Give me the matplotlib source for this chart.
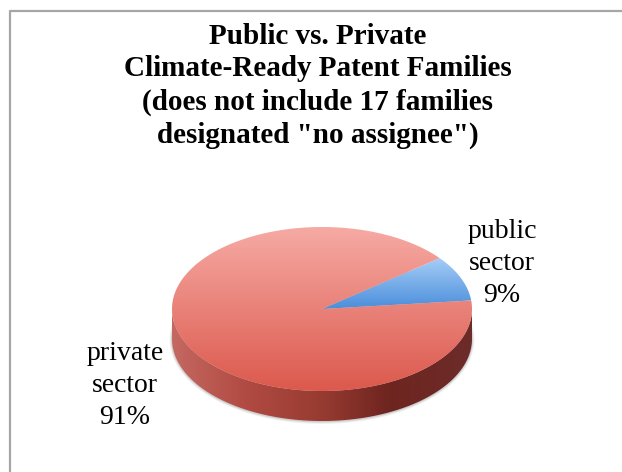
import numpy as np
import matplotlib
matplotlib.use("Agg")
import matplotlib.pyplot as plt
from matplotlib.patches import Polygon
from matplotlib.colors import LinearSegmentedColormap

# ---- data ----
categories = ["public\nsector", "private\nsector"]
values = [9, 91]
title_lines = ["Public vs. Private", "Climate-Ready Patent Families",
               "(does not include 17 families", "designated \"no assignee\")"]

# ---- layout (pixel coords) ----
W, H = 622, 472
cx, cy, a, b, depth = 322, 309, 150, 82, 30
start_deg = 6.0

fig = plt.figure(figsize=(W / 100, H / 100), dpi=100)
ax = fig.add_axes([0, 0, 1, 1])
ax.set_xlim(0, W)
ax.set_ylim(H, 0)
ax.axis("off")

# frame
ax.plot([9.5, 9.5, W], [H, 11, 11], color="#a6a6a6", lw=1.6, solid_capstyle="butt")

def ept(theta_deg, dy=0.0, da=0.0, db=0.0):
    t = np.deg2rad(theta_deg)
    return cx + (a + da) * np.cos(t), cy - (b + db) * np.sin(t) + dy

# soft shadow under pie
t = np.linspace(0, 360, 200)
for k, al in [(2.5, 0.10), (1.5, 0.15), (0.7, 0.2)]:
    xs, ys = ept(t, depth + 0.5, da=k, db=k)
    ax.fill(xs, ys, color="#808080", alpha=al, lw=0, zorder=1)

# side wall (front half)
t1 = np.linspace(180, 360, 200)
xt, yt = ept(t1)
xb, yb = ept(t1[::-1], depth)
side = Polygon(np.c_[np.r_[xt, xb], np.r_[yt, yb]], closed=True, transform=ax.transData,
               facecolor="none", edgecolor="none")
ax.add_patch(side)
side_cmap = LinearSegmentedColormap.from_list(
    "side", [(0, "#c46861"), (0.25, "#b04a42"), (0.5, "#973b31"),
             (0.72, "#6f2520"), (1.0, "#6c2c2a")])
grad = np.linspace(0, 1, 300).reshape(1, -1)
im = ax.imshow(grad, cmap=side_cmap, aspect="auto",
               extent=(cx - a, cx + a, cy + b + depth + 3, cy - 3), origin="upper",
               interpolation="bilinear", zorder=2)
im.set_clip_path(side)

# top face wedges
face_cmaps = [
    LinearSegmentedColormap.from_list("blue", ["#a5cdf7", "#4b8edb"]),
    LinearSegmentedColormap.from_list("red", ["#f6aaa4", "#dc594d"]),
]
total = float(sum(values))
ang = start_deg
for v, cmap in zip(values, face_cmaps):
    span = 360.0 * v / total
    tt = np.linspace(ang, ang + span, max(int(span * 2), 10))
    px, py = ept(tt)
    poly = np.c_[np.r_[cx, px, cx], np.r_[cy, py, cy]]
    patch = Polygon(poly, closed=True, facecolor="none", edgecolor="none",
                    transform=ax.transData)
    ax.add_patch(patch)
    y0, y1 = poly[:, 1].min(), poly[:, 1].max()
    g = np.linspace(0, 1, 300).reshape(-1, 1)
    im = ax.imshow(g, cmap=cmap, aspect="auto",
                   extent=(cx - a - 2, cx + a + 2, y1, y0), origin="upper",
                   interpolation="bilinear", zorder=3)
    im.set_clip_path(patch)
    ang += span

# labels
font = ["Liberation Serif", "DejaVu Serif"]
pcts = [f"{round(100 * v / total)}%" for v in values]
label_pos = [(502, 238), (125, 360)]
for (lx, ly), cat, pct in zip(label_pos, categories, pcts):
    for i, line in enumerate(cat.split("\n") + [pct]):
        ax.text(lx, ly + i * 32, line, ha="center", va="baseline", fontsize=20,
                family=font, color="black", zorder=5)

# title
for i, line in enumerate(title_lines):
    ax.text(318, 43.5 + i * 33, line, ha="center", va="baseline", fontsize=21,
            family=font, fontweight="bold", color="black", zorder=5)

fig.savefig("out.png", dpi=100)
